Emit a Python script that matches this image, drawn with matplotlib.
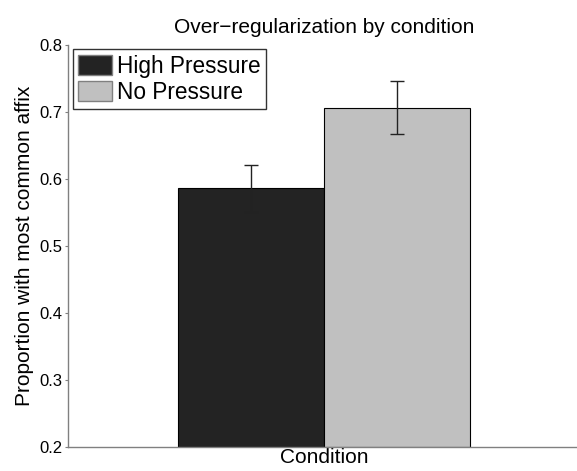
import matplotlib.pyplot as plt
from matplotlib.patches import Patch

plt.rcParams["font.family"] = ["Liberation Sans", "DejaVu Sans"]

conditions = ["High Pressure", "No Pressure"]
proportions = [0.587, 0.706]
err_low = [0.036, 0.039]
err_high = [0.034, 0.040]
colors = ["#232323", "#c0c0c0"]
yticks = [0.2, 0.3, 0.4, 0.5, 0.6, 0.7, 0.8]

fig = plt.figure(figsize=(5.77, 4.71), dpi=100)
ax = fig.add_axes([0.118, 0.051, 0.887, 0.853])

x = list(range(len(conditions)))
ax.bar(x, [p - 0.2 for p in proportions], bottom=0.2, width=1.0,
       color=colors, edgecolor="black", linewidth=0.8)
ax.errorbar(x, proportions, yerr=[err_low, err_high], fmt="none",
            ecolor="#222222", elinewidth=1.0, capsize=5, capthick=1.0)

ax.set_xlim(-1.25, 2.25)
ax.set_ylim(0.2, 0.8)
ax.set_yticks(yticks)
ax.set_yticklabels([f"{t:.1f}" for t in yticks], fontsize=12)
ax.set_xticks([])
ax.tick_params(axis="y", length=2, width=0.8, color="#808080", pad=2)
for side in ["top", "right"]:
    ax.spines[side].set_visible(False)
for side in ["left", "bottom"]:
    ax.spines[side].set_color("#808080")
    ax.spines[side].set_linewidth(1.0)

ax.set_title("Over\u2212regularization by condition", fontsize=15, pad=9)
ax.set_xlabel("Condition", fontsize=15, labelpad=1)
ax.set_ylabel("Proportion with most common affix", fontsize=15, labelpad=4)

handles = [Patch(facecolor=c, edgecolor="#808080", label=n)
           for c, n in zip(colors, conditions)]
leg = ax.legend(handles=handles, loc="upper left", bbox_to_anchor=(0.009, 0.99),
                fontsize=16.3, frameon=True, fancybox=False, handlelength=1.5,
                handleheight=1.0, handletextpad=0.2, labelspacing=0.12,
                borderpad=0.25, borderaxespad=0.0)
leg.get_frame().set_edgecolor("black")
leg.get_frame().set_linewidth(1.0)

fig.savefig("out.png", dpi=100)
